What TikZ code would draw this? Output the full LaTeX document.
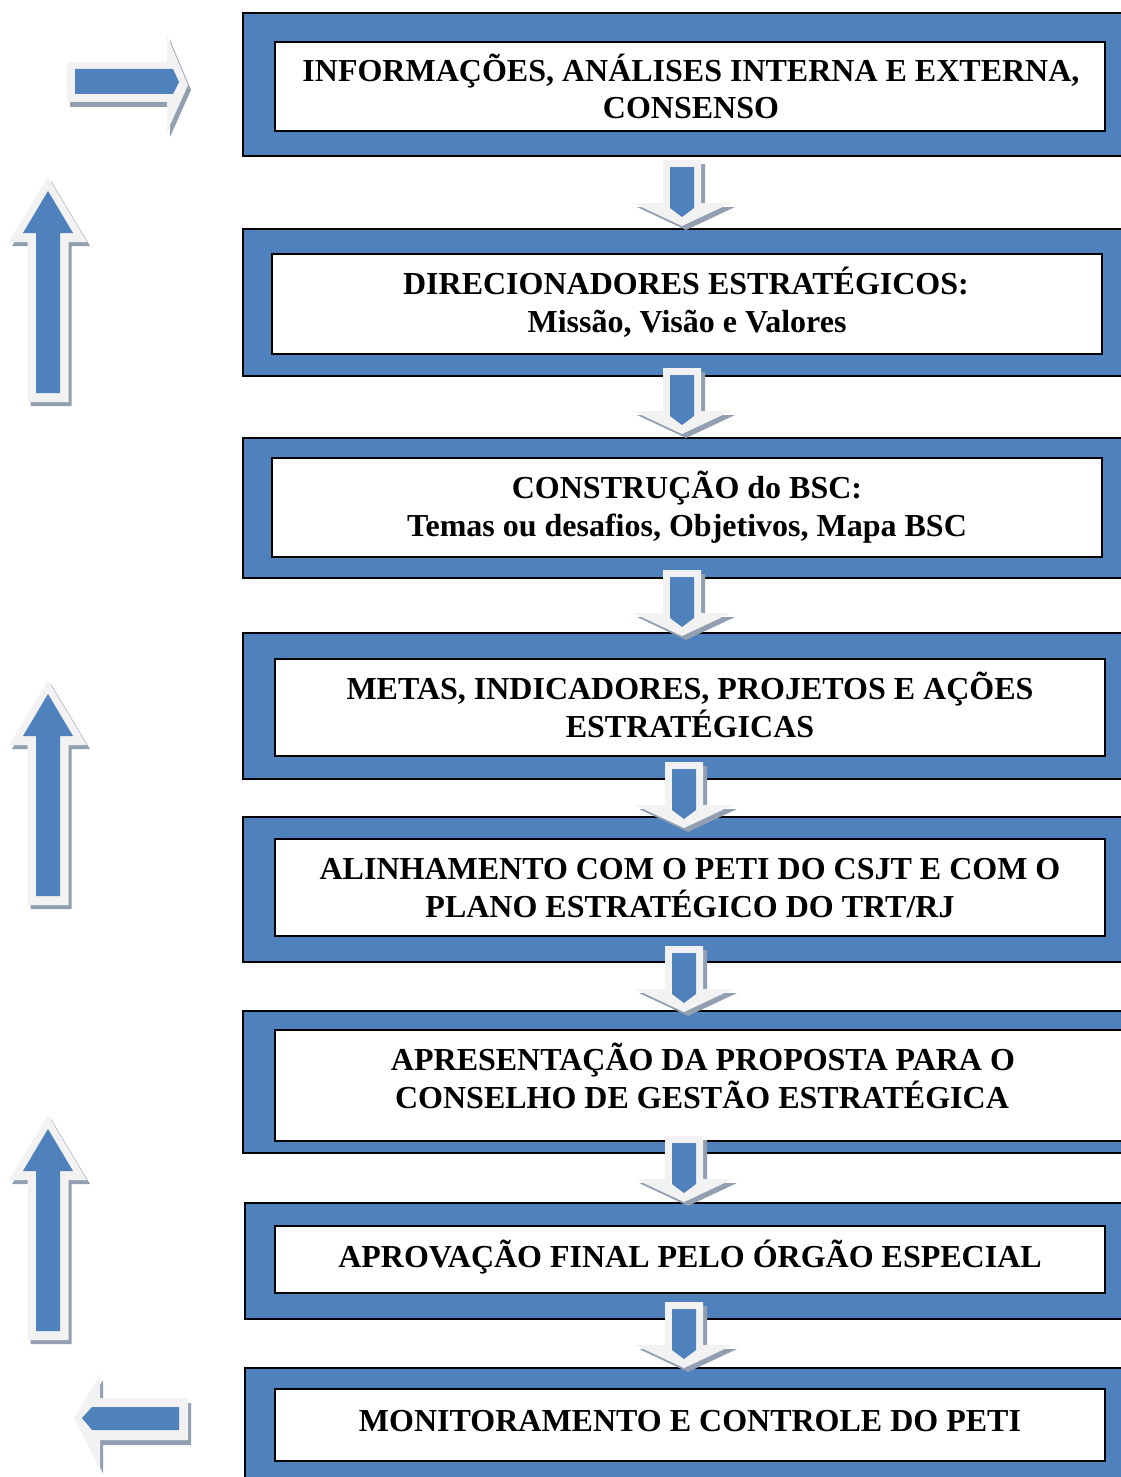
\documentclass[tikz,border=0pt]{standalone}
\usepackage{fontspec}
\setmainfont{Liberation Serif}
\definecolor{boxblue}{HTML}{4F81BD}
\definecolor{arrlight}{HTML}{F2F2F2}
\definecolor{arrshadow}{HTML}{929FB1}
\tikzset{
  outerbox/.style={draw=black, line width=1.8pt, fill=boxblue, anchor=north west, inner sep=0pt, outer sep=0pt},
  innerbox/.style={draw=black, line width=1.8pt, fill=white, anchor=north west, inner sep=0pt, outer sep=0pt},
  txt/.style={anchor=base, inner sep=0pt, font=\bfseries\fontsize{32}{38}\selectfont},
  downarr/.pic={
    \fill[arrshadow, shift={(4,4)}] (-19,0)--(19,0)--(19,43)--(49,43)--(0,66)--(-49,43)--(-19,43)--cycle;
    \fill[arrlight] (-19,0)--(19,0)--(19,43)--(49,43)--(0,66)--(-49,43)--(-19,43)--cycle;
    \fill[boxblue] (-12,7)--(12,7)--(12,48)--(0,57)--(-12,48)--cycle;
  },
  uparr/.pic={
    \fill[arrshadow, shift={(3,4)}] (0,0)--(39,65)--(20.5,65)--(20.5,225)--(-20.5,225)--(-20.5,65)--(-39,65)--cycle;
    \fill[arrlight] (0,0)--(39,65)--(20.5,65)--(20.5,225)--(-20.5,225)--(-20.5,65)--(-39,65)--cycle;
    \fill[boxblue] (0,14)--(25,56)--(12,56)--(12,216)--(-12,216)--(-12,56)--(-25,56)--cycle;
  }
}
\begin{document}
\begin{tikzpicture}[x=1pt, y=-1pt]
\clip (0,0) rectangle (1121,1477);
\fill[white] (0,0) rectangle (1121,1477);

% outer boxes
\node[outerbox, minimum width=890pt, minimum height=143pt] (o1) at (243,13) {};
\node[outerbox, minimum width=890pt, minimum height=147pt] (o2) at (243,229) {};
\node[outerbox, minimum width=890pt, minimum height=140pt] (o3) at (243,438) {};
\node[outerbox, minimum width=890pt, minimum height=146pt] (o4) at (243,633) {};
\node[outerbox, minimum width=890pt, minimum height=145pt] (o5) at (243,817) {};
\node[outerbox, minimum width=890pt, minimum height=142pt] (o6) at (243,1011) {};
\node[outerbox, minimum width=890pt, minimum height=116pt] (o7) at (245,1203) {};
\node[outerbox, minimum width=890pt, minimum height=130pt] (o8) at (245,1368) {};

% inner boxes
\node[innerbox, minimum width=830pt, minimum height=89pt] (i1) at (275,42) {};
\node[innerbox, minimum width=830pt, minimum height=100pt] (i2) at (272,254) {};
\node[innerbox, minimum width=830pt, minimum height=99pt] (i3) at (272,458) {};
\node[innerbox, minimum width=830pt, minimum height=97pt] (i4) at (275,659) {};
\node[innerbox, minimum width=830pt, minimum height=97pt] (i5) at (275,839) {};
\node[innerbox, minimum width=860pt, minimum height=111pt] (i6) at (275,1030) {};
\node[innerbox, minimum width=830pt, minimum height=67pt] (i7) at (275,1226) {};
\node[innerbox, minimum width=830pt, minimum height=72pt] (i8) at (275,1389) {};

% texts
\node[txt] (t1a) at (691,82) {INFORMAÇÕES, ANÁLISES INTERNA E EXTERNA,};
\node[txt] (t1b) at (691,118) {CONSENSO};
\node[txt] (t2a) at (686,294) {DIRECIONADORES ESTRATÉGICOS:};
\node[txt] (t2b) at (687,332) {Missão, Visão e Valores};
\node[txt] (t3a) at (687,498) {CONSTRUÇÃO do BSC:};
\node[txt] (t3b) at (687,536) {Temas ou desafios, Objetivos, Mapa BSC};
\node[txt] (t4a) at (690,699) {METAS, INDICADORES, PROJETOS E AÇÕES};
\node[txt] (t4b) at (690,737) {ESTRATÉGICAS};
\node[txt] (t5a) at (690,879) {ALINHAMENTO COM O PETI DO CSJT E COM O};
\node[txt] (t5b) at (690,917) {PLANO ESTRATÉGICO DO TRT/RJ};
\node[txt] (t6a) at (703,1070) {APRESENTAÇÃO DA PROPOSTA PARA O};
\node[txt] (t6b) at (702,1108) {CONSELHO DE GESTÃO ESTRATÉGICA};
\node[txt] (t7) at (690,1267) {APROVAÇÃO FINAL PELO ÓRGÃO ESPECIAL};
\node[txt] (t8) at (690,1431) {MONITORAMENTO E CONTROLE DO PETI};

% down arrows between boxes
\pic at (682,160) {downarr};
\pic at (682,368) {downarr};
\pic at (682,570) {downarr};
\pic at (684,762) {downarr};
\pic at (684,946) {downarr};
\pic at (684,1136) {downarr};
\pic at (684,1302) {downarr};

% up arrows on the left
\pic at (48,177) {uparr};
\pic at (48,680) {uparr};
\pic at (48,1115) {uparr};

% right arrow (top left)
\fill[arrshadow, shift={(3,5)}] (67,62)--(167,62)--(167,35)--(188,85)--(167,132)--(167,102)--(67,102)--cycle;
\fill[arrlight] (67,62)--(167,62)--(167,35)--(188,85)--(167,132)--(167,102)--(67,102)--cycle;
\fill[boxblue] (75,69)--(173,69)--(179,82)--(173,94)--(75,94)--cycle;

% left arrow (bottom left)
\fill[arrshadow, shift={(3,5)}] (188,1398)--(100,1398)--(100,1375)--(74,1418)--(100,1468)--(100,1440)--(188,1440)--cycle;
\fill[arrlight] (188,1398)--(100,1398)--(100,1375)--(74,1418)--(100,1468)--(100,1440)--(188,1440)--cycle;
\fill[boxblue] (179,1407)--(92,1407)--(82,1418)--(92,1430)--(179,1430)--cycle;
\end{tikzpicture}
\end{document}
